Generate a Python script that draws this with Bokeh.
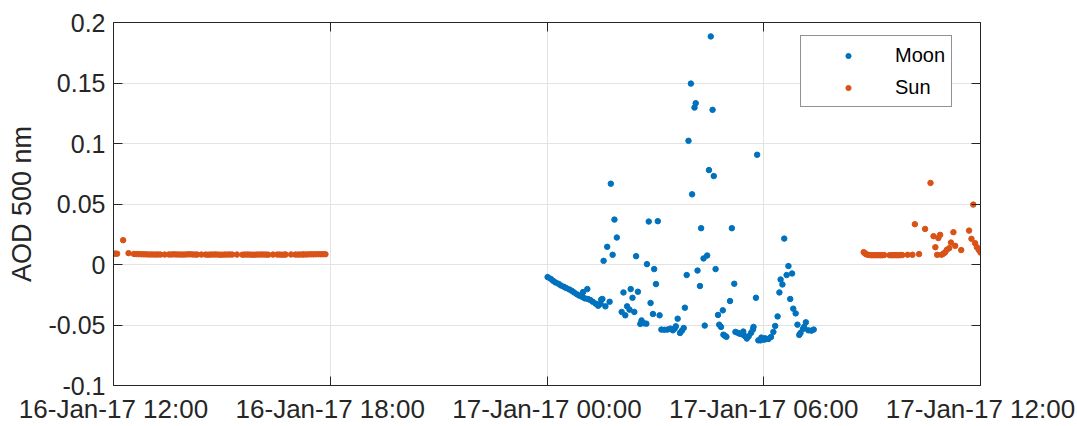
import pandas as pd
from bokeh.plotting import figure
from bokeh.models import (FixedTicker, DatetimeTickFormatter, CustomJSTickFormatter,
                          Range1d, LinearAxis, DatetimeAxis, Legend, LegendItem, ColumnDataSource)
from bokeh.embed import file_html
from bokeh.resources import INLINE

# ---- data: minutes after 16-Jan-17 12:00, AOD at 500 nm ----
moon_min = [721, 726, 730, 734, 739, 743, 748, 752, 757, 761, 765, 770, 774, 779, 780, 783, 787, 788,
            792, 796, 801, 805, 809, 810, 812, 814, 817, 820, 824, 826, 829, 832, 836, 844, 847, 850,
            853, 857, 859, 862, 865, 868, 871, 875, 877, 881, 885, 886, 889, 892, 896, 898, 901, 904,
            907, 910, 915, 920, 925, 929, 932, 934, 937, 941, 944, 947, 949, 952, 955, 959, 961, 965,
            967, 970, 974, 976, 980, 982, 986, 989, 992, 995, 997, 1000, 1004, 1006, 1009, 1012, 1013,
            1016, 1018, 1024, 1027, 1031, 1033, 1037, 1040, 1045, 1046, 1049, 1052, 1055, 1059, 1062,
            1063, 1067, 1069, 1071, 1075, 1076, 1081, 1082, 1087, 1088, 1092, 1096, 1099, 1103, 1106,
            1108, 1111, 1114, 1118, 1121, 1124, 1127, 1129, 1133, 1136, 1139, 1141, 1145, 1147, 1150,
            1154, 1159, 1163]
moon_aod = [-0.0104, -0.0118, -0.0134, -0.0148, -0.0159, -0.0173, -0.0184, -0.0195, -0.0206, -0.0217,
            -0.0231, -0.0247, -0.0258, -0.0269, -0.0228, -0.0280, -0.0203, -0.0285, -0.0294, -0.0308,
            -0.0324, -0.0341, -0.0324, -0.0290, -0.0285, 0.0030, -0.0346, 0.0146, -0.0308, 0.0668,
            0.0080, 0.0371, 0.0223, -0.0392, -0.0231, -0.0420, -0.0346, -0.0373, -0.0203, -0.0275,
            -0.0392, 0.0069, -0.0225, -0.0491, -0.0462, -0.0486, -0.0489, 0.0003, 0.0355, -0.0318,
            -0.0409, -0.0038, -0.0162, 0.0358, -0.0420, -0.0538, -0.0540, -0.0538, -0.0530, -0.0544,
            -0.0530, -0.0511, -0.0448, -0.0566, -0.0547, -0.0525, -0.0357, -0.0087, 0.1022, 0.1495,
            0.0580, 0.1297, 0.1333, -0.0050, -0.0178, 0.0300, 0.0050, -0.0505, 0.0074, 0.0780, 0.1885,
            0.1278, 0.0731, -0.0038, -0.0417, -0.0497, -0.0516, -0.0379, -0.0580, -0.0590, -0.0598,
            -0.0302, 0.0300, -0.0159, -0.0557, -0.0565, -0.0573, -0.0579, -0.0554, -0.0593, -0.0612,
            -0.0593, -0.0565, -0.0538, -0.0516, -0.0275, 0.0907, -0.0627, -0.0627, -0.0604, -0.0621,
            -0.0610, -0.0615, -0.0615, -0.0599, -0.0557, -0.0508, -0.0429, -0.0231, -0.0124, -0.0165,
            0.0214, -0.0087, -0.0013, -0.0285, -0.0074, -0.0365, -0.0404, -0.0497, -0.0582, -0.0566,
            -0.0533, -0.0516, -0.0478, -0.0544, -0.0547, -0.0538]

sun_min = [0, 3, 6, 16, 25, 34, 38, 42, 46, 50, 54, 58, 62, 66, 70, 74, 78, 85, 92, 96, 100, 104, 108,
           112, 116, 120, 124, 128, 132, 136, 139, 146, 153, 157, 161, 165, 169, 173, 177, 181, 185,
           189, 193, 197, 205, 214, 218, 222, 226, 230, 234, 238, 242, 246, 250, 254, 257, 265, 272,
           276, 280, 284, 286, 295, 302, 306, 310, 314, 316, 320, 324, 328, 332, 336, 340, 344, 348,
           352,
           1246, 1248, 1250, 1253, 1256, 1259, 1262, 1265, 1268, 1271, 1274, 1277, 1280, 1289, 1292,
           1295, 1298, 1301, 1304, 1307, 1310, 1319, 1327, 1331, 1338, 1348, 1357, 1362, 1365, 1368,
           1370, 1373, 1375, 1378, 1381, 1384, 1388, 1391, 1395, 1398, 1408, 1421, 1425, 1428, 1431,
           1434, 1437, 1440]
sun_aod = [0.0089, 0.0090, 0.0089, 0.0201, 0.0094, 0.0087, 0.0086, 0.0086, 0.0085, 0.0084, 0.0084,
           0.0083, 0.0083, 0.0083, 0.0082, 0.0083, 0.0082, 0.0082, 0.0083, 0.0083, 0.0084, 0.0083,
           0.0083, 0.0082, 0.0082, 0.0083, 0.0084, 0.0084, 0.0083, 0.0082, 0.0082, 0.0082, 0.0082,
           0.0081, 0.0082, 0.0082, 0.0083, 0.0082, 0.0081, 0.0081, 0.0082, 0.0082, 0.0083, 0.0082,
           0.0082, 0.0081, 0.0082, 0.0082, 0.0082, 0.0081, 0.0081, 0.0082, 0.0082, 0.0083, 0.0082,
           0.0082, 0.0081, 0.0082, 0.0082, 0.0082, 0.0081, 0.0082, 0.0082, 0.0083, 0.0082, 0.0082,
           0.0082, 0.0083, 0.0083, 0.0083, 0.0084, 0.0084, 0.0084, 0.0085, 0.0085, 0.0085, 0.0085,
           0.0085,
           0.0102, 0.0092, 0.0085, 0.0080, 0.0078, 0.0077, 0.0077, 0.0077, 0.0077, 0.0077, 0.0077,
           0.0077, 0.0078, 0.0077, 0.0077, 0.0077, 0.0077, 0.0077, 0.0077, 0.0078, 0.0078, 0.0080,
           0.0080, 0.0333, 0.0086, 0.0294, 0.0674, 0.0234, 0.0143, 0.0080, 0.0218, 0.0245, 0.0080,
           0.0088, 0.0099, 0.0121, 0.0135, 0.0181, 0.0267, 0.0154, 0.0119, 0.0280, 0.0212, 0.0495,
           0.0176, 0.0143, 0.0121, 0.0099]

x_start = "2017-01-16 12:00"
tick_hours = [0, 6, 12, 18, 24]
y_ticks = [-0.1, -0.05, 0, 0.05, 0.1, 0.15, 0.2]
y_label = "AOD 500 nm"

base = pd.Timestamp(x_start)
moon_src = ColumnDataSource(dict(t=base + pd.to_timedelta(moon_min, unit="m"), v=moon_aod))
sun_src = ColumnDataSource(dict(t=base + pd.to_timedelta(sun_min, unit="m"), v=sun_aod))

x_ticks_ms = [(base + pd.Timedelta(hours=h)).value / 1e6 for h in tick_hours]

FONT = "Liberation Sans"
TXT = "#262626"
BLUE = "#0072BD"
ORANGE = "#D95319"

p = figure(width=1077, height=426, x_axis_type="datetime", output_backend="svg",
           toolbar_location=None,
           x_range=Range1d(base, base + pd.Timedelta(hours=24)),
           y_range=Range1d(-0.1, 0.2),
           min_border_left=113, min_border_right=97, min_border_top=22, min_border_bottom=40)
p.background_fill_color = "white"
p.border_fill_color = "white"
p.outline_line_color = TXT
p.outline_line_width = 1

r_moon = p.scatter("t", "v", source=moon_src, size=5.5, color=BLUE)
r_sun = p.scatter("t", "v", source=sun_src, size=5.5, color=ORANGE)

fmt = "%d-%b-%y %H:%M"
dt_fmt = DatetimeTickFormatter(hours=fmt, hourmin=fmt, days=fmt, minutes=fmt, minsec=fmt,
                               seconds=fmt, months=fmt, years=fmt, milliseconds=fmt, microseconds=fmt)
y_fmt = CustomJSTickFormatter(code="return Number(tick.toFixed(3)).toString();")

xa = p.xaxis[0]
xa.ticker = FixedTicker(ticks=x_ticks_ms)
xa.formatter = dt_fmt
ya = p.yaxis[0]
ya.ticker = FixedTicker(ticks=y_ticks)
ya.formatter = y_fmt
ya.axis_label = y_label

for ax in (xa, ya):
    ax.major_tick_in = 9
    ax.major_tick_out = 0
    ax.minor_tick_in = 0
    ax.minor_tick_out = 0
    ax.axis_line_color = TXT
    ax.major_tick_line_color = TXT
    ax.major_label_text_font = FONT
    ax.major_label_text_font_size = "25px"
    ax.major_label_text_color = TXT
    ax.axis_label_text_font = FONT
    ax.axis_label_text_font_size = "27px"
    ax.axis_label_text_font_style = "normal"
    ax.axis_label_text_color = TXT
xa.major_label_text_font_size = "26px"
xa.major_label_standoff = 8
ya.major_label_standoff = 8
ya.axis_label_standoff = 9

# mirrored ticks on top and right (box on), without labels
top = DatetimeAxis(ticker=FixedTicker(ticks=x_ticks_ms), formatter=dt_fmt)
right = LinearAxis(ticker=FixedTicker(ticks=y_ticks), formatter=y_fmt)
for ax in (top, right):
    ax.major_tick_in = 9
    ax.major_tick_out = 0
    ax.minor_tick_in = 0
    ax.minor_tick_out = 0
    ax.axis_line_color = TXT
    ax.major_tick_line_color = TXT
    ax.major_label_text_color = None
    ax.major_label_text_font_size = "1px"
    ax.major_label_standoff = 0
p.add_layout(top, "above")
p.add_layout(right, "right")

p.xgrid.ticker = FixedTicker(ticks=x_ticks_ms)
p.ygrid.ticker = FixedTicker(ticks=y_ticks)
for g in (p.xgrid[0], p.ygrid[0]):
    g.grid_line_color = "#e3e3e3"
    g.grid_line_width = 1

legend = Legend(items=[LegendItem(label="Moon", renderers=[r_moon]),
                       LegendItem(label="Sun", renderers=[r_sun])],
                location=(687, 278), orientation="vertical")
legend.label_text_font = FONT
legend.label_text_font_size = "20px"
legend.label_text_color = "black"
legend.label_height = 26
legend.glyph_height = 13
legend.glyph_width = 82
legend.label_standoff = 6
legend.spacing = 6
legend.padding = 6
legend.margin = 0
legend.border_line_color = TXT
legend.border_line_width = 1
legend.background_fill_color = "white"
legend.background_fill_alpha = 1
p.add_layout(legend, "center")

open("out.html", "w").write(file_html(p, INLINE))
